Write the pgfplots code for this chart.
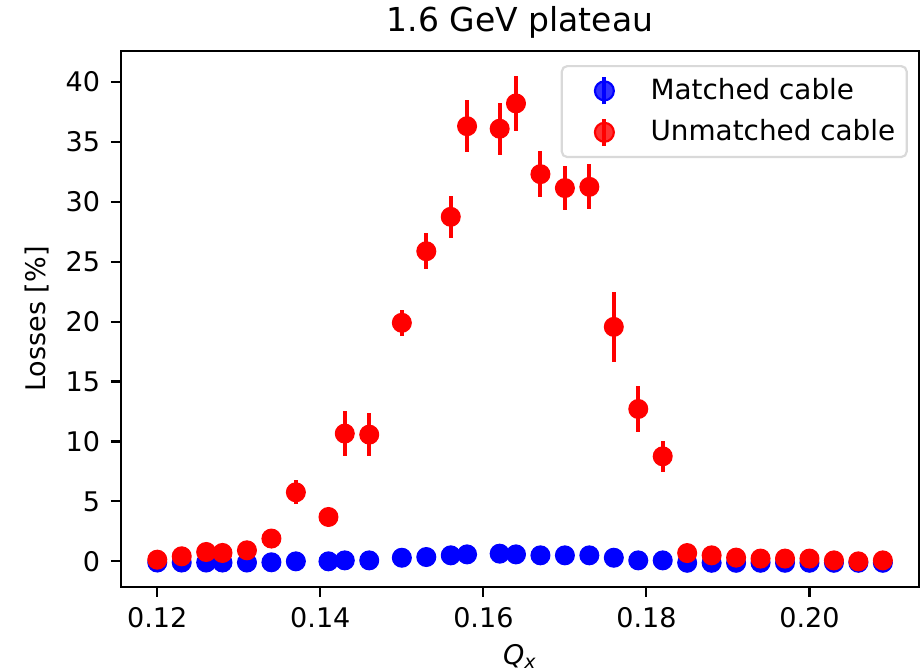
\documentclass[border=0pt]{standalone}
\usepackage{fontspec}
\setmainfont{DejaVu Sans}
\usepackage{pgfplots}
\pgfplotsset{compat=1.18}

% 1 px of the reference = 0.37pt
\begin{document}
\begin{tikzpicture}
\begin{axis}[
    name=ax,
    at={(0,0)}, anchor=south west,
    scale only axis,
    width=295.3pt, height=198.3pt,
    xmin=0.11555, xmax=0.21345,
    ymin=-2.14, ymax=42.57,
    xtick={0.12,0.14,0.16,0.18,0.20},
    ytick={0,5,10,15,20,25,30,35,40},
    xticklabel style={/pgf/number format/fixed, /pgf/number format/fixed zerofill, /pgf/number format/precision=2},
    /pgf/number format/assume math mode=true,
    tick label style={font=\fontsize{10}{12}\selectfont},
    tick align=outside,
    major tick length=3.7pt,
    every tick/.style={black, line width=0.8pt},
    axis line style={line width=0.8pt},
    xtick pos=bottom, ytick pos=left,
    x tick label style={yshift=-0.5pt},
    y tick label style={xshift=-0.5pt},
    title={1.6 GeV plateau},
    title style={font=\fontsize{12.2}{14}\selectfont, at={(axis description cs:0.5,1)}, anchor=base, yshift=1.4pt},
    xlabel={\textit{Q}\textsubscript{\textit{x}}},
    xlabel style={font=\fontsize{10}{12}\selectfont, at={(axis description cs:0.5,0)}, anchor=base, yshift=-28.5pt},
    ylabel={Losses [\%]},
    ylabel style={font=\fontsize{10}{12}\selectfont, at={(axis description cs:-0.1053,0.5)}, anchor=center},
    legend style={at={(0.9858,0.9739)}, anchor=north east,
        draw=black!15, line width=0.8pt, rounded corners=2pt,
        fill=white, fill opacity=0.8, text opacity=1,
        inner xsep=2.25pt, inner ysep=2.5pt, row sep=2pt,
        font=\fontsize{10.3}{12}\selectfont},
    legend cell align={left},
    clip=false,
]
% Matched cable
\addplot[only marks, mark=*, mark size=3.5pt, blue, mark options={draw=blue, fill=blue},
    legend image code/.code={
        \path[draw=none, fill=none] (0pt,0pt) -- (28.6pt,0pt);
        \draw[blue, line width=1.5pt] (13.5pt,-5pt) -- (13.5pt,5pt);
        \fill[blue] (13.5pt,0pt) circle (3.5pt);}]
coordinates {
    (0.120,-0.1) (0.123,-0.1) (0.126,-0.1) (0.128,-0.1) (0.131,-0.1)
    (0.134,-0.08) (0.137,0.0) (0.141,0.0) (0.143,0.08) (0.146,0.08)
    (0.150,0.30) (0.153,0.36) (0.156,0.50) (0.158,0.58) (0.162,0.64)
    (0.164,0.58) (0.167,0.50) (0.170,0.50) (0.173,0.50) (0.176,0.30)
    (0.179,0.08) (0.182,0.08) (0.185,-0.12) (0.188,-0.12) (0.191,-0.12)
    (0.194,-0.12) (0.197,-0.12) (0.200,-0.12) (0.203,-0.12) (0.206,-0.12)
    (0.209,-0.12)
};
\addlegendentry{Matched cable}
% Unmatched cable
\addplot[only marks, mark=*, mark size=3.5pt, red, mark options={draw=red, fill=red},
    legend image code/.code={
        \path[draw=none, fill=none] (0pt,0pt) -- (28.6pt,0pt);
        \draw[red, line width=1.5pt] (13.5pt,-5pt) -- (13.5pt,5pt);
        \fill[red] (13.5pt,0pt) circle (3.5pt);},
    error bars/.cd, y dir=both, y explicit, error mark=none,
    error bar style={line width=1.5pt, red},
    ] coordinates {
    (0.120,0.14) +- (0,0.1)
    (0.123,0.42) +- (0,0.1)
    (0.126,0.78) +- (0,0.1)
    (0.128,0.70) +- (0,0.1)
    (0.131,0.92) +- (0,0.1)
    (0.134,1.90) +- (0,0.3)
    (0.137,5.76) +- (0,1.0)
    (0.141,3.70) +- (0,0.3)
    (0.143,10.66) +- (0,1.85)
    (0.146,10.57) +- (0,1.8)
    (0.150,19.90) +- (0,1.1)
    (0.153,25.87) +- (0,1.5)
    (0.156,28.74) +- (0,1.74)
    (0.158,36.30) +- (0,2.18)
    (0.162,36.09) +- (0,2.17)
    (0.164,38.20) +- (0,2.28)
    (0.167,32.30) +- (0,1.92)
    (0.170,31.14) +- (0,1.82)
    (0.173,31.24) +- (0,1.88)
    (0.176,19.56) +- (0,2.92)
    (0.179,12.71) +- (0,1.9)
    (0.182,8.76) +- (0,1.32)
    (0.185,0.69) +- (0,0.1)
    (0.188,0.50) +- (0,0.1)
    (0.191,0.31) +- (0,0.1)
    (0.194,0.23) +- (0,0.1)
    (0.197,0.23) +- (0,0.1)
    (0.200,0.23) +- (0,0.1)
    (0.203,0.08) +- (0,0.1)
    (0.206,0.00) +- (0,0.1)
    (0.209,0.08) +- (0,0.1)
};
\addlegendentry{Unmatched cable}
\end{axis}
\pgfresetboundingbox
\useasboundingbox (-44.77pt,-31.08pt) rectangle (295.63pt,217.19pt);
\end{tikzpicture}
\end{document}
